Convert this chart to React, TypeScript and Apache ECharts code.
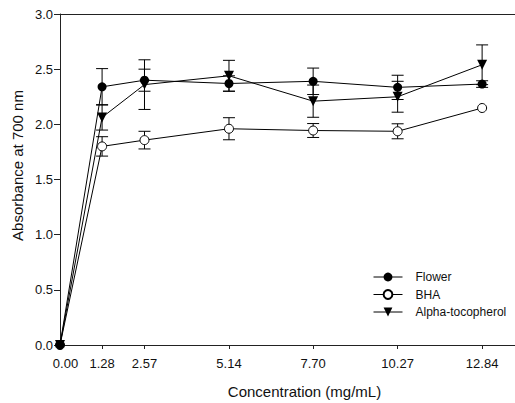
import React, { useEffect, useRef } from "react";
import * as echarts from "echarts";

const concentrations = [0, 1.28, 2.57, 5.14, 7.7, 10.27, 12.84];
const flower = [0, 2.34, 2.4, 2.37, 2.39, 2.335, 2.365];
const flowerErr = [0, 0.165, 0.1, 0.07, 0.12, 0.11, 0.03];
const bha = [0, 1.8, 1.857, 1.96, 1.944, 1.937, 2.148];
const bhaErr = [0, 0.088, 0.08, 0.1, 0.063, 0.068, 0];
const alpha = [0, 2.063, 2.36, 2.44, 2.21, 2.25, 2.54];
const alphaErr = [0, 0.115, 0.225, 0.14, 0.146, 0.14, 0.18];
const yTicks = [0, 0.5, 1.0, 1.5, 2.0, 2.5, 3.0];

const FONT = "'Liberation Sans', Arial, sans-serif";

function pairs(vals: number[]) {
  return concentrations.map((x, i) => [x, vals[i]]);
}
function errData(vals: number[], errs: number[]) {
  return concentrations.map((x, i) => [x, vals[i], errs[i]]);
}

const renderErr = (params: any, api: any) => {
  const x = api.value(0);
  const y = api.value(1);
  const e = api.value(2);
  if (!e) return null;
  const top = api.coord([x, y + e]);
  const bot = api.coord([x, y - e]);
  const hw = 6;
  const st = { stroke: "#000", lineWidth: 1 };
  return {
    type: "group",
    children: [
      { type: "line", shape: { x1: top[0], y1: top[1], x2: bot[0], y2: bot[1] }, style: st },
      { type: "line", shape: { x1: top[0] - hw, y1: top[1], x2: top[0] + hw, y2: top[1] }, style: st },
      { type: "line", shape: { x1: bot[0] - hw, y1: bot[1], x2: bot[0] + hw, y2: bot[1] }, style: st },
    ],
  };
};

export default function App() {
  const ref = useRef<HTMLDivElement>(null);
  useEffect(() => {
    if (!ref.current) return;
    const chart = echarts.init(ref.current, null, { renderer: "svg" });
    const errSeries = (name: string, vals: number[], errs: number[]) => ({
      type: "custom",
      name: name + " err",
      renderItem: renderErr,
      data: errData(vals, errs),
      encode: { x: 0, y: 1 },
      z: 1,
      silent: true,
      legendHoverLink: false,
    });
    chart.setOption({
      animation: false,
      textStyle: { fontFamily: FONT },
      grid: { left: 60, right: 0, top: 14, bottom: 58, containLabel: false },
      legend: {
        data: ["Flower", "BHA", "Alpha-tocopherol"],
        orient: "vertical",
        left: 373,
        top: 270,
        padding: 0,
        itemWidth: 29,
        itemHeight: 11,
        itemGap: 3.5,
        lineStyle: { width: 1, color: "#000" },
        textStyle: { fontFamily: FONT, fontSize: 12, color: "#111", lineHeight: 14, padding: [0, 0, 0, 8] },
      },
      xAxis: [
        {
          type: "value",
          min: 0,
          max: 13.84,
          splitLine: { show: false },
          axisLine: { show: true, lineStyle: { color: "#222", width: 1 } },
          axisTick: { show: true, length: 4, lineStyle: { color: "#222" }, customValues: concentrations },
          axisLabel: {
            customValues: concentrations,
            formatter: (v: number) => (v === 0 ? "{z|0.00}" : v.toFixed(2)),
            rich: { z: { fontFamily: FONT, fontSize: 13, color: "#111", padding: [0, 0, 0, 11] } },
            fontFamily: FONT,
            fontSize: 13,
            color: "#111",
            margin: 12,
          },
        },
        {
          type: "value",
          position: "top",
          min: 0,
          max: 13.84,
          splitLine: { show: false },
          axisLine: { show: true, lineStyle: { color: "#222", width: 1 } },
          axisTick: { show: false },
          axisLabel: { show: false },
        },
      ],
      yAxis: {
        type: "value",
        min: 0,
        max: 3,
        interval: 0.5,
        splitLine: { show: false },
        axisLine: { show: true, lineStyle: { color: "#222", width: 1 } },
        axisTick: { show: true, length: 6, lineStyle: { color: "#222" }, customValues: yTicks },
        axisLabel: {
          formatter: (v: number) => v.toFixed(1),
          fontFamily: FONT,
          fontSize: 13,
          color: "#111",
          margin: 7,
        },
      },
      graphic: [
        {
          type: "text",
          x: 304.5,
          y: 391,
          style: {
            text: "Concentration (mg/mL)",
            fontFamily: FONT,
            fontSize: 15,
            fill: "#111",
            align: "center",
            verticalAlign: "middle",
          },
        },
        {
          type: "text",
          x: 17.5,
          y: 165.5,
          rotation: Math.PI / 2,
          style: {
            text: "Absorbance at 700 nm",
            fontFamily: FONT,
            fontSize: 15,
            fill: "#111",
            align: "center",
            verticalAlign: "middle",
          },
        },
      ],
      series: [
        errSeries("BHA", bha, bhaErr),
        errSeries("Alpha-tocopherol", alpha, alphaErr),
        errSeries("Flower", flower, flowerErr),
        {
          type: "line",
          name: "BHA",
          data: pairs(bha),
          symbol: "circle",
          symbolSize: 9,
          showSymbol: true,
          lineStyle: { color: "#000", width: 1 },
          itemStyle: { color: "#fff", borderColor: "#000", borderWidth: 1 },
          z: 3,
        },
        {
          type: "line",
          name: "Alpha-tocopherol",
          data: pairs(alpha),
          symbol: "triangle",
          symbolRotate: 180,
          symbolSize: 10,
          lineStyle: { color: "#000", width: 1 },
          itemStyle: { color: "#000" },
          z: 3,
        },
        {
          type: "line",
          name: "Flower",
          data: pairs(flower),
          symbol: "circle",
          symbolSize: 9,
          lineStyle: { color: "#000", width: 1 },
          itemStyle: { color: "#000" },
          z: 4,
        },
      ],
    });
    return () => chart.dispose();
  }, []);
  return (
    <div
      ref={ref}
      style={{ position: "fixed", left: 0, top: 0, width: 515, height: 403, background: "#fff" }}
    />
  );
}
